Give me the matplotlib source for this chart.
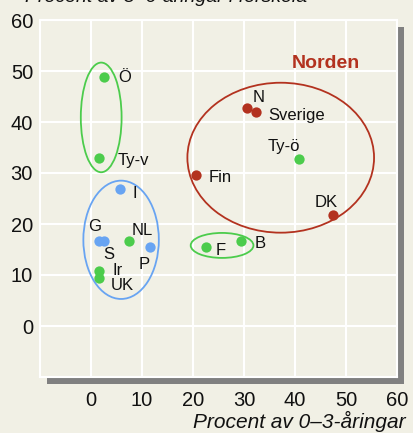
import matplotlib
matplotlib.use("Agg")
import matplotlib.pyplot as plt
from matplotlib.patches import Ellipse

plt.rcParams['font.family'] = ['Liberation Sans', 'DejaVu Sans']

BG = '#f1f0e5'
GREEN = '#4ccc4c'
BLUE = '#68a4f2'
RED = '#b3321f'

# data
green_x = [2.5, 1.6, 7.5, 1.6, 1.6, 40.8, 22.5, 29.5]
green_y = [48.8, 32.9, 16.6, 10.8, 9.4, 32.7, 15.5, 16.6]
blue_x = [5.7, 1.6, 2.6, 11.5]
blue_y = [26.8, 16.6, 16.6, 15.5]
red_x = [30.5, 32.4, 20.5, 47.4]
red_y = [42.8, 41.9, 29.6, 21.8]

labels = ['Ö', 'Ty-v', 'I', 'G', 'NL', 'S', 'P', 'Ir', 'UK',
          'N', 'Sverige', 'Ty-ö', 'Fin', 'DK', 'F', 'B']
label_x = [5.3, 5.3, 8.1, -0.5, 7.9, 2.5, 9.4, 4.2, 3.9,
           31.6, 34.8, 34.6, 23.0, 43.9, 24.5, 32.0]
label_y = [48.8, 32.5, 26.0, 19.6, 18.7, 14.0, 12.1, 10.8, 8.0,
           44.9, 41.3, 35.1, 29.2, 24.2, 14.9, 16.1]

# ellipses
ell_cx = [2.0, 5.9, 37.2, 25.7]
ell_cy = [40.9, 16.9, 33.0, 15.8]
ell_w = [8.0, 14.8, 36.6, 12.3]
ell_h = [21.5, 23.2, 29.4, 4.9]
ell_c = [GREEN, BLUE, RED, GREEN]

ticks = [0, 10, 20, 30, 40, 50, 60]

W, H = 414, 433
fig = plt.figure(figsize=(W/100, H/100), dpi=100, facecolor=BG)

L, R, T, B = 40, 397, 20, 377
ax = fig.add_axes([L/W, 1-B/H, (R-L)/W, (B-T)/H], zorder=2)

# shadow
shadow_ax = fig.add_axes([(L+7)/W, 1-(B+7)/H, (R-L)/W, (B-T)/H], zorder=1)
shadow_ax.set_facecolor('#808080')
shadow_ax.set_xticks([])
shadow_ax.set_yticks([])
for s in shadow_ax.spines.values():
    s.set_visible(False)

ax.set_facecolor(BG)
ax.set_xlim(-10, 60)
ax.set_ylim(-10, 60)
ax.set_xticks(ticks)
ax.set_yticks(ticks)
ax.grid(True, color='white', lw=1.5)
ax.set_axisbelow(True)
for s in ax.spines.values():
    s.set_color('white')
    s.set_linewidth(1.5)
ax.tick_params(length=0, labelsize=14.5, labelcolor='#111111')
ax.tick_params(axis='x', pad=10)
ax.tick_params(axis='y', pad=5)

for cx, cy, w, h, c in zip(ell_cx, ell_cy, ell_w, ell_h, ell_c):
    ax.add_patch(Ellipse((cx, cy), w, h, fill=False, edgecolor=c, lw=1.3, zorder=2))

ax.scatter(green_x, green_y, s=55, color=GREEN, zorder=3, linewidths=0)
ax.scatter(blue_x, blue_y, s=55, color=BLUE, zorder=3, linewidths=0)
ax.scatter(red_x, red_y, s=55, color=RED, zorder=3, linewidths=0)

for t, x, y in zip(labels, label_x, label_y):
    ax.text(x, y, t, fontsize=12, ha='left', va='center', color='#111111', zorder=4)

ax.text(46.1, 51.5, 'Norden', fontsize=14, fontweight='bold', color=RED,
        ha='center', va='center', zorder=4)

fig.text(406/W, 1-428/H, 'Procent av 0–3-åringar', fontsize=15, style='italic',
         ha='right', va='baseline', color='#111111')
fig.text(25/W, 1-1.5/H, 'Procent av 3–6-åringar i förskola', fontsize=14,
         style='italic', ha='left', va='baseline', color='#111111')

fig.savefig('out.png', dpi=100, facecolor=BG)
